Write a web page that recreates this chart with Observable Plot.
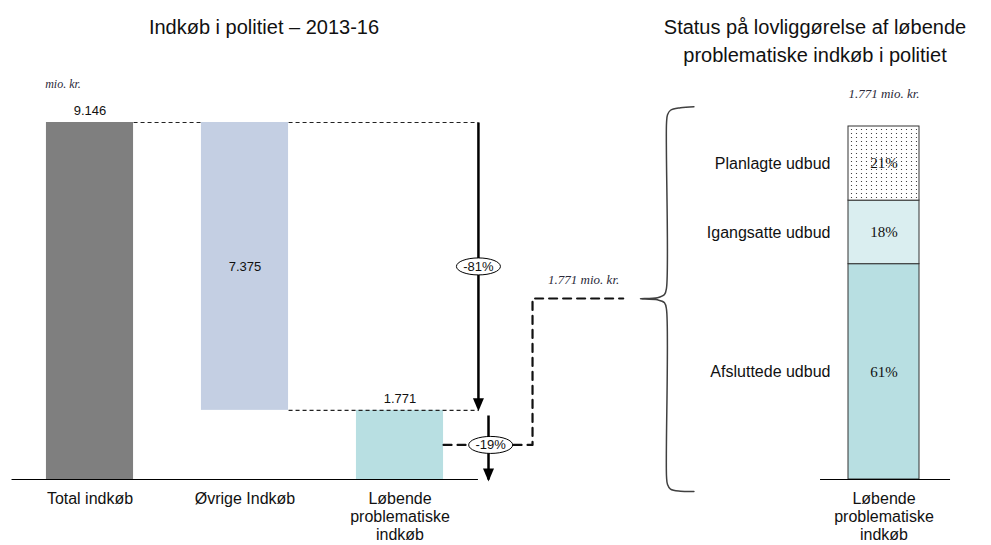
<!DOCTYPE html>
<html><head><meta charset="utf-8">
<script src="https://cdn.jsdelivr.net/npm/d3@7"></script>
<script src="https://cdn.jsdelivr.net/npm/@observablehq/plot@0.6"></script>
<style>
body{margin:0;background:#fff;font-family:"Liberation Sans",Arial,sans-serif;}
#wrap{position:relative;width:991px;height:545px;overflow:hidden;background:#fff;}
.title{position:absolute;font-size:20px;color:#111;text-align:center;line-height:28px;white-space:nowrap;}
#t1{left:64px;width:400px;top:13px;}
#t2{left:630px;width:370px;top:13px;}
#left,#right{position:absolute;top:0;}
#left{left:0}
#right{left:630px}
</style></head><body>
<div id="wrap">
<div class="title" id="t1">Indkøb i politiet – 2013-16</div>
<div class="title" id="t2">Status på lovliggørelse af løbende<br>problematiske indkøb i politiet</div>
<div id="left"></div><div id="right"></div>
</div>
<script>
// ---- data ----
const categories = ["Total indkøb", "Øvrige Indkøb", "Løbende\nproblematiske\nindkøb"];
const values = [9146, 7375, 1771];
const unit = "mio. kr.";
const statusCategories = ["Afsluttede udbud", "Igangsatte udbud", "Planlagte udbud"];
const statusShares = [61, 18, 21];
const statusBarLabel = "Løbende\nproblematiske\nindkøb";

// ---- helpers ----
const fmt = d3.formatLocale({decimal: ",", thousands: ".", grouping: [3], currency: ["", ""]}).format(",d");
const total = values[0], rest = values[1], prob = values[2];
const bars = [
  {i: 0, cat: categories[0], y1: 0, y2: total, v: total},
  {i: 1, cat: categories[1], y1: total - rest, y2: total, v: rest},
  {i: 2, cat: categories[2], y1: 0, y2: prob, v: prob}
];
const hw = 0.281;           // half bar width (x units)
const ax1 = 2.506, ax2 = 2.571, cornerX = 2.855, endX = 3.44, connY = 4637;

const downTri = {draw(c) { c.moveTo(0, 1); c.lineTo(-5.5, -12); c.lineTo(5.5, -12); c.closePath(); }};
function ellipseSym(rx, ry) {
  const k = 0.5523;
  return {draw(c) {
    c.moveTo(rx, 0);
    c.bezierCurveTo(rx, ry * k, rx * k, ry, 0, ry);
    c.bezierCurveTo(-rx * k, ry, -rx, ry * k, -rx, 0);
    c.bezierCurveTo(-rx, -ry * k, -rx * k, -ry, 0, -ry);
    c.bezierCurveTo(rx * k, -ry, rx, -ry * k, rx, 0);
    c.closePath();
  }};
}
const serif = "'Liberation Serif','Times New Roman',serif";
const sans = "'Liberation Sans',Arial,sans-serif";

// ---- left: waterfall ----
const ovals = [
  {x: ax1, y: (total + prob) / 2, t: "-" + Math.round(rest / total * 100) + "%"},
  {x: 2.585, y: prob / 2, t: "-" + Math.round(prob / total * 100) + "%"}
];
const left = Plot.plot({
  width: 640, height: 545,
  marginTop: 122, marginBottom: 66, marginLeft: 0, marginRight: 0,
  style: {background: "transparent", overflow: "visible", fontFamily: sans, color: "#111"},
  x: {domain: [0, 2], range: [89.5, 399.5]},
  y: {domain: [0, total], axis: null},
  color: {domain: categories, range: ["#7f7f7f", "#c4cfe3", "#b8dfe2"]},
  marks: [
    Plot.rect(bars, {x1: d => d.i - hw, x2: d => d.i + hw, y1: "y1", y2: "y2", fill: "cat"}),
    Plot.link([
      {x1: hw, x2: 1 - hw, y: total},
      {x1: 1 + hw, x2: ax1, y: total},
      {x1: 1 + hw, x2: ax1, y: prob}
    ], {x1: "x1", x2: "x2", y1: "y", y2: "y", stroke: "#222", strokeWidth: 1.2, strokeDasharray: "4,3"}),
    Plot.line([
      {x: 2 + hw, y: prob / 2}, {x: cornerX, y: prob / 2}, {x: cornerX, y: connY}, {x: endX, y: connY}
    ], {x: "x", y: "y", stroke: "#111", strokeWidth: 2.2, strokeDasharray: "8,6"}),
    Plot.ruleY([0], {x1: -0.503, x2: 2.506, stroke: "#000", strokeWidth: 1.2}),
    Plot.link([{x: ax1, y1: total, y2: prob + 150}, {x: ax2, y1: 1640, y2: 0}],
      {x1: "x", x2: "x", y1: "y1", y2: "y2", stroke: "#000", strokeWidth: 2.5}),
    Plot.dot([{x: ax1, y: prob}, {x: ax2, y: -26}], {x: "x", y: "y", symbol: downTri, fill: "#000", stroke: "none"}),
    Plot.dot(ovals, {x: "x", y: "y", symbol: ellipseSym(22, 8.5), fill: "#fff", stroke: "#000", strokeWidth: 1}),
    Plot.text(ovals, {x: "x", y: "y", text: "t", fontSize: 13, fill: "#111"}),
    Plot.text(bars.filter(d => d.i !== 1), {x: "i", y: "y2", dy: -12, text: d => fmt(d.v), fontSize: 13}),
    Plot.text(bars.filter(d => d.i === 1), {x: "i", y: d => (d.y1 + d.y2) / 2, text: d => fmt(d.v), fontSize: 13}),
    Plot.text([unit], {x: () => 0, y: () => total, dx: -27, dy: -38, text: d => d, fontSize: 12, fontStyle: "italic", fontFamily: serif, fill: "#2a2a3a"}),
    Plot.text([fmt(prob) + " " + unit], {x: () => 3.185, y: () => connY, dy: -19, text: d => d, fontSize: 13, fontStyle: "italic", fontFamily: serif, fill: "#2a2a3a"}),
    Plot.axisX({ticks: [0, 1, 2], tickFormat: i => categories[i], tickSize: 0, tickPadding: 11, fontSize: 16, lineHeight: 1.15, label: null})
  ]
});
document.getElementById("left").appendChild(left);

// ---- right: status bar ----
let acc = 0;
const stack = statusCategories.map((c, k) => {
  const y1 = acc; acc += statusShares[k];
  return {cat: c, v: statusShares[k], y1, y2: acc, mid: (y1 + acc) / 2};
});
const brace = [
  [-2.677, 105.6], [-2.866, 105.3], [-3.007, 104.6], [-3.049, 103.3], [-3.063, 101.0],
  [-3.063, 54.3], [-3.092, 52.4], [-3.190, 51.5], [-3.430, 51.2], [-3.190, 50.9],
  [-3.092, 50.1], [-3.063, 48.1], [-3.063, 0.85], [-3.049, -1.4], [-3.007, -2.7],
  [-2.866, -3.3], [-2.677, -3.4]
];
const right = Plot.plot({
  width: 361, height: 545,
  marginTop: 126, marginBottom: 66, marginLeft: 0, marginRight: 0,
  style: {background: "transparent", overflow: "visible", fontFamily: sans, color: "#111"},
  x: {domain: [-0.5, 0.5], range: [218, 289]},
  y: {domain: [0, 100], axis: null},
  color: {domain: statusCategories, range: ["#b8dfe2", "#daeef0", "url(#dots)"]},
  marks: [
    Plot.rect(stack, {x1: () => -0.5, x2: () => 0.5, y1: "y1", y2: "y2", fill: "cat", stroke: "#333", strokeWidth: 1}),
    Plot.text(stack, {x: () => 0, y: "mid", text: d => d.v + "%", fontSize: 15, fontFamily: serif, fill: "#111"}),
    Plot.text(stack, {x: () => -0.754, y: "mid", text: "cat", textAnchor: "end", fontSize: 16, fill: "#111"}),
    Plot.ruleY([0], {x1: -0.894, x2: 0.937, stroke: "#000", strokeWidth: 1.2}),
    Plot.line(brace, {x: d => d[0], y: d => d[1], curve: "catmull-rom", stroke: "#404040", strokeWidth: 1.5}),
    Plot.text([fmt(prob) + " " + unit], {x: () => 0, y: () => 100, dy: -33, text: d => d, fontSize: 13, fontStyle: "italic", fontFamily: serif, fill: "#2a2a3a"}),
    Plot.axisX({ticks: [0], tickFormat: () => statusBarLabel, tickSize: 0, tickPadding: 11, fontSize: 16, lineHeight: 1.15, label: null})
  ]
});
const defs = d3.select(right).insert("defs", ":first-child");
const pat = defs.append("pattern").attr("id", "dots").attr("width", 5).attr("height", 8).attr("patternUnits", "userSpaceOnUse");
pat.append("rect").attr("width", 5).attr("height", 8).attr("fill", "#fff");
pat.append("circle").attr("cx", 1.5).attr("cy", 1.5).attr("r", 0.6).attr("fill", "#222");
pat.append("circle").attr("cx", 1.5).attr("cy", 5.5).attr("r", 0.6).attr("fill", "#222");
document.getElementById("right").appendChild(right);
</script>
</body></html>
